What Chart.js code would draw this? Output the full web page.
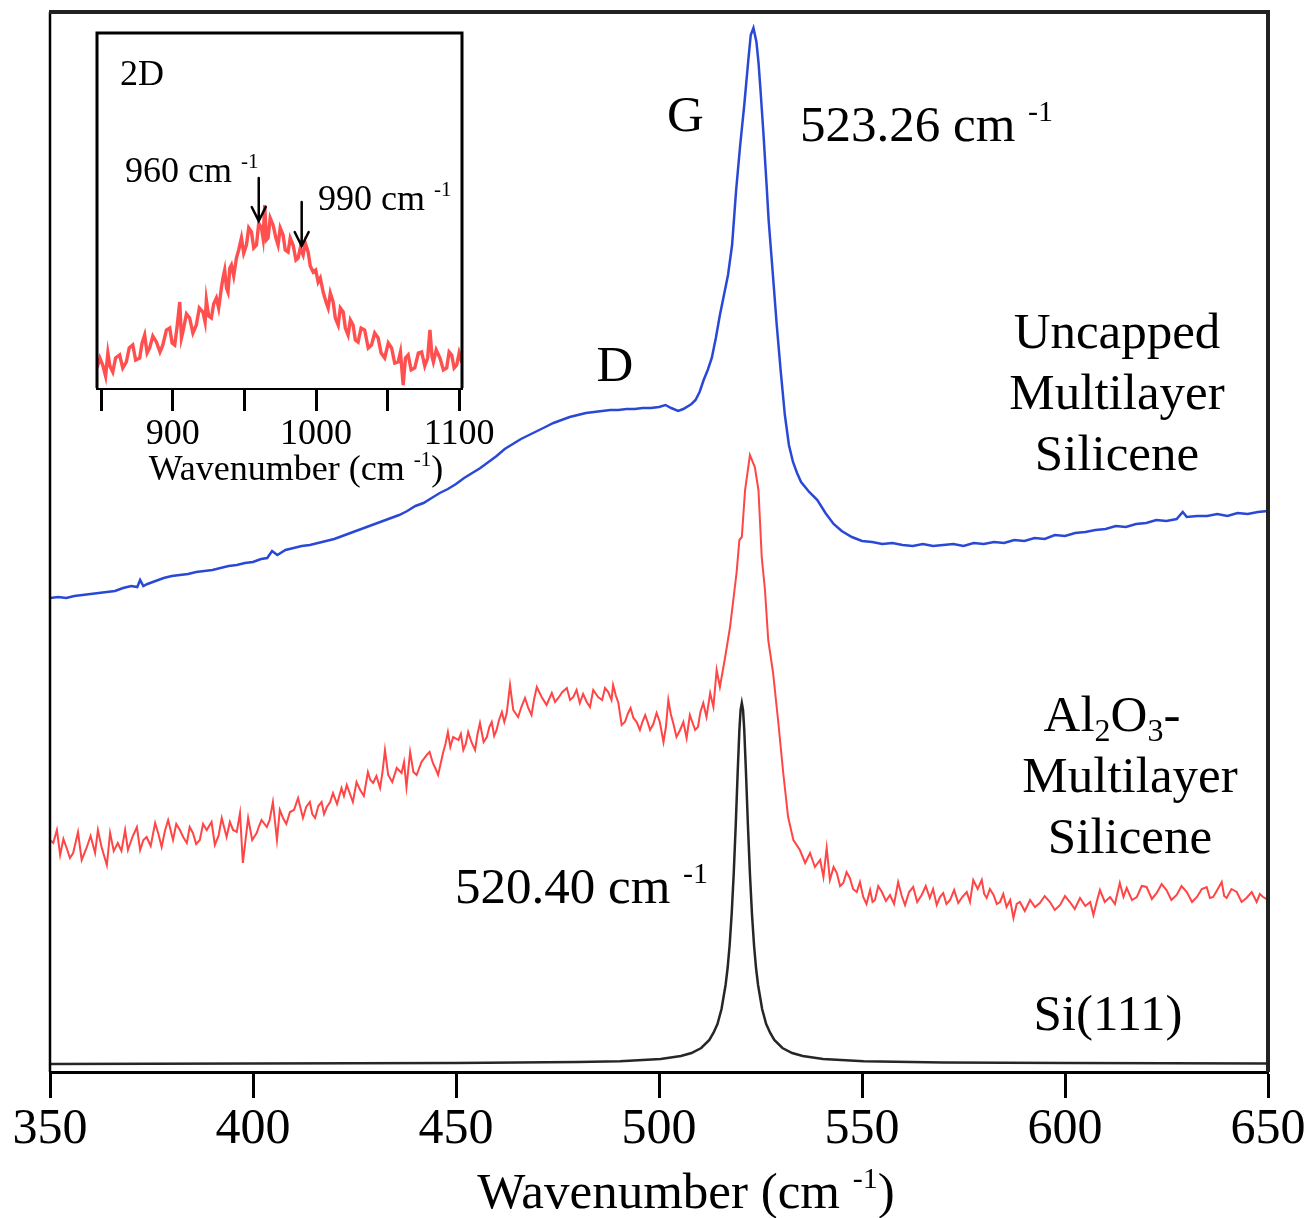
<!DOCTYPE html>
<html>
<head>
<meta charset="utf-8">
<title>Raman spectra of multilayer silicene</title>
<script src="https://cdn.jsdelivr.net/npm/chart.js@4.4.1/dist/chart.umd.min.js"></script>
<style>
  html, body { margin: 0; padding: 0; background: #fff; }
  #wrap { position: relative; width: 1311px; height: 1218px; }
  #main, #inset { position: absolute; left: 0; top: 0; }
</style>
</head>
<body>
<div id="wrap">
  <canvas id="main" width="1311" height="1218"></canvas>
  <canvas id="inset" width="520" height="500"></canvas>
</div>
<script>
// ---- Spectra (Raman shift in cm^-1, intensity in arbitrary offset units) ----

// Uncapped multilayer silicene (blue)
const unWavenumber = [350,352,354,356,358,360,362,364,366,368,370,371.5,372.2,373,374,376,378,380,382,384,386,388,390,392,394,396,398,400,402,403.5,404.7,406,408,410,412,414,416,418,420,422,424,426,428,430,432,434,436,438,440,442,444,446,448,450,452,454,456,458,460,462,464,466,468,470,472,474,476,478,480,482,484,486,488,490,492,494,496,498,500,501.6,503,504.7,506,508,509,510,511,512,513,514,515,516,517,518,519,520,521,522,522.6,523.26,524,524.5,525,525.7,526.5,527,528,529,530,531,532,533,534,535,537,539,541,543,545,547.5,550,552.5,555,557.5,560,562.5,565,567.5,570,572.5,575,577.5,580,582.5,585,587.5,590,592.5,595,597.5,600,602.5,605,607.5,610,612.5,615,617.5,620,622.5,625,627.5,629,630,632.5,635,637.5,640,642.5,645,647.5,650];
const unIntensity = [474,475,474,476,477,478,479,480,481,484,486,485,492,486,488,491,494,496,497,498,500,501,502,504,506,507,509,510,513,514,521,517,522,524,526,527,529,531,533,536,539,542,545,548,551,554,557,561,566,569,574,579,583,588,594,599,604,610,616,623,628,633,637,641,645,649,652,655,657,659,660,661,662,662,663,663,664,664,665,667,664,661,663,668,672,680,692,702,714,734,757,777,797,827,882,927,967,1012,1037,1044,1030,1010,982,940,887,852,800,747,700,657,627,610,599,590,580,572,559,548,541,535,531,530,528,529,527,526,528,526,527,528,526,529,528,530,529,532,531,534,533,537,536,539,540,542,543,546,545,548,549,552,551,553,560,555,556,556,558,556,559,558,560,561];

// Al2O3-capped multilayer silicene (red): [wavenumber, intensity]
const alSpectrum = [
  [350,232],[350.8,229],[351.7,242],[352.5,217],[353.3,233],[354.1,224],[354.9,214],[355.7,219],[356.9,240],[357.8,212],
  [359.0,224],[360.0,236],[361.1,219],[361.8,242],[362.7,225],[364.0,207],[364.8,239],[365.7,221],[366.7,229],[367.6,221],
  [368.5,242],[369.2,222],[370.3,235],[371.4,245],[372.2,222],[373.0,232],[373.8,235],[374.8,226],[375.9,249],[376.7,238],
  [377.5,225],[378.3,241],[379.1,252],[380.3,232],[381.1,248],[382.0,242],[382.8,235],[383.7,229],[384.4,245],[385.2,239],
  [386.0,228],[386.9,232],[387.7,248],[388.6,242],[389.8,250],[390.6,227],[391.5,236],[392.3,254],[393.5,235],[394.3,250],
  [395.1,242],[396.0,240],[396.8,259],[397.5,209],[398.8,254],[399.8,232],[400.9,239],[401.5,246],[402.1,252],[403.4,245],
  [404.1,252],[404.9,270],[405.9,232],[406.6,262],[407.4,254],[408.2,248],[409.1,260],[410.1,262],[411.1,274],[412.3,254],
  [413.1,265],[414.0,270],[414.6,258],[415.3,254],[416.1,266],[416.9,270],[417.5,258],[418.2,265],[419.0,270],[419.7,279],
  [420.7,268],[421.8,284],[422.4,276],[423.1,287],[423.8,279],[424.6,270],[425.5,290],[426.4,282],[427.3,276],[428.3,300],
  [428.9,292],[429.6,289],[430.4,296],[431.3,284],[431.9,300],[432.5,322],[433.3,297],[434.3,290],[435.4,304],[436.6,299],
  [437.2,310],[437.8,285],[438.7,320],[439.5,300],[440.3,297],[441.5,310],[442.8,317],[443.5,320],[444.3,309],[445.0,303],
  [445.6,297],[446.8,319],[447.4,328],[448.0,340],[448.6,325],[449.3,335],[450.6,332],[451.2,338],[451.8,322],[452.4,328],
  [453.0,340],[453.8,330],[454.7,322],[455.3,338],[455.9,349],[456.8,330],[457.6,335],[458.2,345],[458.8,350],[459.4,336],
  [460.0,342],[460.6,352],[461.3,360],[461.9,350],[462.5,359],[463.3,387],[464.1,362],[465.3,355],[466.1,365],[467.0,374],
  [467.8,364],[468.6,357],[469.2,372],[469.9,385],[471.1,375],[472.3,367],[473.6,379],[474.4,370],[475.2,374],[476.2,380],
  [477.3,384],[478.1,372],[478.9,375],[479.7,382],[480.5,369],[481.3,378],[482.2,370],[483.0,365],[483.8,382],[485.0,375],
  [486.0,372],[486.7,384],[487.5,380],[488.3,372],[488.7,387],[489.4,376],[490.0,369],[490.8,347],[491.6,350],[492.4,359],
  [493.0,364],[493.7,354],[494.5,350],[495.3,342],[495.9,350],[496.6,357],[497.2,350],[497.8,342],[498.6,348],[499.4,359],
  [500.2,350],[501.1,330],[501.7,345],[502.3,372],[502.9,358],[503.5,349],[504.3,335],[505.2,342],[506.0,350],[506.8,334],
  [507.6,357],[508.2,350],[508.9,342],[509.6,345],[510.2,360],[510.9,369],[511.7,355],[512.6,379],[513.4,365],[514.2,402],
  [515.0,385],[516.3,415],[517.5,445],[518.3,472],[519.1,499],[519.8,532],[520.4,535],[521.2,582],[522.4,617],[523.6,605],
  [524.5,582],[525.3,515],[526.1,482],[526.9,432],[528.1,399],[529.4,349],[530.6,299],[531.8,255],[533.1,232],[534.7,222],
  [536.0,209],[537.2,219],[538.4,205],[539.7,212],[540.5,195],[541.3,224],[542.1,192],[543.0,205],[543.8,199],[544.6,186],
  [545.4,189],[546.2,200],[547.0,194],[547.8,183],[548.7,180],[549.5,190],[550.3,175],[551.1,168],[552.0,182],[552.6,170],
  [553.2,172],[554.0,186],[554.9,180],[555.9,171],[556.9,177],[557.9,168],[558.9,190],[559.8,176],[560.6,167],[561.6,180],
  [562.6,185],[563.6,170],[564.7,177],[565.7,186],[566.7,174],[567.5,183],[568.4,167],[569.2,175],[570.0,179],[570.8,168],
  [571.7,172],[572.7,182],[573.7,169],[574.7,175],[575.8,180],[576.6,170],[577.4,192],[578.5,183],[579.5,192],[580.1,178],
  [580.7,174],[581.5,183],[582.4,177],[583.2,168],[584.0,170],[584.8,178],[585.6,165],[586.5,172],[587.3,154],[588.1,168],
  [588.9,170],[590.1,161],[591.4,172],[592.6,165],[593.8,169],[595.0,176],[596.3,170],[597.5,162],[598.8,167],[600.0,176],
  [601.2,170],[602.4,163],[603.7,174],[605.0,166],[606.2,170],[607.0,157],[607.8,170],[608.6,182],[609.8,170],[611.1,175],
  [612.3,168],[613.5,189],[614.4,175],[615.2,184],[616.5,172],[617.7,175],[618.9,186],[620.1,185],[621.4,173],[622.6,179],
  [623.8,188],[625.0,182],[626.2,172],[627.5,177],[628.7,186],[630.0,180],[631.3,170],[632.5,175],[633.7,183],[634.9,185],
  [635.7,174],[636.5,175],[637.5,182],[638.6,190],[639.2,176],[639.8,174],[641.0,183],[642.3,180],[643.5,170],[644.7,174],
  [646.0,180],[647.2,170],[648.0,178],[648.8,175],[650,172]
];
const alWavenumber = alSpectrum.map(p => p[0]);
const alIntensity = alSpectrum.map(p => p[1]);

// Si(111) substrate reference (black)
const siWavenumber = [350,400,450,480,490.4,500.4,505.4,508,510.4,512.4,513.4,514.4,515.4,516.4,516.9,517.4,517.9,518.4,518.9,519.4,519.8,520.1,520.4,520.7,521.0,521.4,521.9,522.4,522.9,523.4,523.9,524.4,525.4,526.4,527.4,528.4,530.4,532.8,535.4,540.4,550.4,570,600,650];
const siIntensity = [8,8.5,9,10,10.8,13,16,19,24,32,39,48,63,87,104,127,158,198,247,302,342,362,369,362,342,302,247,198,158,127,104,87,63,48,39,32,24,19,16,13,10.8,9.5,9,8.5];

// 2D band of the capped film (inset)
const insetWavenumber = [847,849,851,853,854.6,856,858,860,862.8,865,867.5,869.5,872,874,876.8,878.5,880.3,882,883.8,886,888.5,891,893,895.5,897.8,899.5,901.3,903,904.8,906,907,909.5,911.7,914,916.4,918.5,921,922.5,923.4,925,926.9,928.5,930.4,932,933.9,935,936.2,937.5,938.5,939.8,940.9,942.5,944.4,946,947.9,949.5,951.4,953,954.9,956.5,958.4,960,961.9,963,964.2,965.3,966.5,968,970,972,973.5,975,977,978.5,980.5,982,984,986,987.5,989,991,992.5,994.5,996,998,999.8,1001.5,1003,1005,1007,1008.5,1010,1012,1013.5,1015.5,1017,1019,1020.5,1022.4,1024,1025.9,1027.5,1029.4,1031.5,1034,1036.5,1038.8,1041,1043.4,1045.5,1048,1050.5,1052.8,1055,1057.4,1059,1060.9,1062.5,1064.4,1066.5,1069,1071.5,1073.8,1076,1078,1079.6,1081,1082,1084,1086.6,1089,1091.3,1093,1094.8,1096.5,1098.3,1100,1102];
const insetIntensity = [20,30,23,12,35,22,16,30,33,20,26,40,43,28,30,45,53,35,40,52,46,36,43,58,60,45,43,62,86,50,56,74,70,55,63,80,76,66,88,72,70,84,90,80,100,110,118,100,96,120,123,112,130,138,150,135,143,160,156,140,143,165,160,150,183,148,150,170,163,150,143,160,153,138,136,150,143,128,130,140,133,145,136,122,116,118,106,110,96,86,80,95,86,70,63,80,76,60,53,68,63,48,46,60,58,40,43,55,50,35,30,45,40,25,26,36,3,30,33,18,20,35,36,22,30,58,32,26,38,30,18,20,36,33,20,23,35,25];

// Axis ticks
const mainTicks = [350, 400, 450, 500, 550, 600, 650];
const insetTicks = [850, 900, 950, 1000, 1050, 1100];
const insetTickLabels = [900, 1000, 1100];

// Peak positions quoted on the plot
const gPeakUncapped = 523.26;
const siPeak = 520.40;
const insetMarks = [960, 990];

// ---- helpers ----
const SERIF = '"Liberation Serif", "Times New Roman", Times, serif';
const pts = (xs, ys) => xs.map((x, i) => ({ x: x, y: ys[i] }));

// Draw a run of text pieces (normal / superscript / subscript) on one baseline.
function rich(ctx, parts, x, y, align) {
  let w = 0;
  parts.forEach(p => { ctx.font = p[1] + 'px ' + SERIF; w += ctx.measureText(p[0]).width; });
  let cx = align === 'center' ? x - w / 2 : (align === 'right' ? x - w : x);
  ctx.textAlign = 'left';
  ctx.textBaseline = 'alphabetic';
  ctx.fillStyle = '#000';
  parts.forEach(p => {
    ctx.font = p[1] + 'px ' + SERIF;
    ctx.fillText(p[0], cx, y + (p[2] || 0));
    cx += ctx.measureText(p[0]).width;
  });
}

function arrowDown(ctx, x, y0, y1) {
  ctx.save();
  ctx.strokeStyle = '#000';
  ctx.lineWidth = 2.5;
  ctx.lineCap = 'round';
  ctx.beginPath();
  ctx.moveTo(x, y0); ctx.lineTo(x, y1);
  ctx.moveTo(x - 7, y1 - 14); ctx.lineTo(x, y1); ctx.lineTo(x + 7, y1 - 14);
  ctx.stroke();
  ctx.restore();
}

// ---- main figure ----
const mainDecor = {
  id: 'mainDecor',
  afterDraw(chart) {
    const ctx = chart.ctx, a = chart.chartArea, xs = chart.scales.x;
    ctx.save();
    // frame (bottom edge is the x axis line)
    ctx.strokeStyle = '#000';
    ctx.lineWidth = 2.5;
    ctx.beginPath(); ctx.moveTo(a.left, a.bottom); ctx.lineTo(a.left, a.top); ctx.stroke();
    ctx.strokeStyle = '#222';
    ctx.lineWidth = 4;
    ctx.beginPath(); ctx.moveTo(a.left - 1, a.top); ctx.lineTo(a.right, a.top); ctx.lineTo(a.right, a.bottom); ctx.stroke();

    // axis title
    rich(ctx, [['Wavenumber (cm ', 51], ['-1', 30, -20], [')', 51]], 686, 1208, 'center');

    // peak labels
    rich(ctx, [['G', 51]], xs.getPixelForValue(gPeakUncapped) - 68, 131, 'center');
    rich(ctx, [[gPeakUncapped.toFixed(2) + ' cm ', 51], ['-1', 30, -20]], 800, 141, 'left');
    rich(ctx, [['D', 51]], 615, 381, 'center');
    rich(ctx, [[siPeak.toFixed(2) + ' cm ', 51], ['-1', 30, -20]], 455, 903, 'left');

    // sample labels
    rich(ctx, [['Uncapped', 51]], 1117, 348, 'center');
    rich(ctx, [['Multilayer', 51]], 1117, 409, 'center');
    rich(ctx, [['Silicene', 51]], 1117, 470, 'center');

    rich(ctx, [['Al', 51], ['2', 32, 10], ['O', 51], ['3', 32, 10], ['-', 51]], 1112, 731, 'center');
    rich(ctx, [['Multilayer', 51]], 1130, 792, 'center');
    rich(ctx, [['Silicene', 51]], 1130, 853, 'center');

    rich(ctx, [['Si(111)', 51]], 1108, 1030, 'center');
    ctx.restore();
  }
};

new Chart(document.getElementById('main'), {
  type: 'line',
  data: {
    datasets: [
      { label: 'Si(111)', data: pts(siWavenumber, siIntensity), borderColor: '#262626', borderWidth: 2.5 },
      { label: 'Al2O3-Multilayer Silicene', data: pts(alWavenumber, alIntensity), borderColor: '#ff4545', borderWidth: 2 },
      { label: 'Uncapped Multilayer Silicene', data: pts(unWavenumber, unIntensity), borderColor: '#2a48d6', borderWidth: 2.5 }
    ]
  },
  options: {
    responsive: false,
    devicePixelRatio: 1,
    animation: false,
    events: [],
    layout: { padding: { left: 50, right: 43, top: 12, bottom: 0 } },
    elements: { point: { radius: 0 }, line: { tension: 0, fill: false } },
    plugins: { legend: { display: false }, tooltip: { enabled: false } },
    scales: {
      x: {
        type: 'linear', position: 'bottom', min: 350, max: 650,
        afterBuildTicks: s => { s.ticks = mainTicks.map(v => ({ value: v })); },
        ticks: { font: { family: SERIF, size: 50 }, color: '#000', padding: 2, maxRotation: 0, autoSkip: false },
        grid: { drawOnChartArea: false, drawTicks: true, tickLength: 26, tickWidth: 3, tickColor: '#000' },
        border: { display: true, color: '#000', width: 3 },
        afterFit: s => { s.height = 146; }
      },
      y: { type: 'linear', min: 0, max: 1060, display: false }
    }
  },
  plugins: [mainDecor]
});

// ---- inset: 2D band ----
const insetDecor = {
  id: 'insetDecor',
  beforeDatasetsDraw(chart) {
    const ctx = chart.ctx, a = chart.chartArea;
    ctx.save();
    ctx.fillStyle = '#fff';
    ctx.fillRect(a.left, a.top, a.right - a.left, a.bottom - a.top);
    ctx.restore();
  },
  afterDraw(chart) {
    const ctx = chart.ctx, a = chart.chartArea, xs = chart.scales.x;
    ctx.save();
    ctx.strokeStyle = '#000';
    ctx.lineWidth = 3;
    ctx.beginPath();
    ctx.moveTo(a.left, a.bottom); ctx.lineTo(a.left, a.top); ctx.lineTo(a.right, a.top); ctx.lineTo(a.right, a.bottom);
    ctx.stroke();

    rich(ctx, [['Wavenumber (cm ', 36], ['-1', 21, -14], [')', 36]], 296, 480, 'center');
    rich(ctx, [['2D', 36]], 120, 85, 'left');
    rich(ctx, [[insetMarks[0] + ' cm ', 36], ['-1', 21, -14]], 125, 182, 'left');
    rich(ctx, [[insetMarks[1] + ' cm ', 36], ['-1', 21, -14]], 318, 210, 'left');

    arrowDown(ctx, xs.getPixelForValue(insetMarks[0]), 178, 221);
    arrowDown(ctx, xs.getPixelForValue(insetMarks[1]), 202, 246);
    ctx.restore();
  }
};

new Chart(document.getElementById('inset'), {
  type: 'line',
  data: {
    datasets: [
      { label: '2D', data: pts(insetWavenumber, insetIntensity), borderColor: 'rgba(255,35,35,0.8)', borderWidth: 3.4 }
    ]
  },
  options: {
    responsive: false,
    devicePixelRatio: 1,
    animation: false,
    events: [],
    layout: { padding: { left: 97, right: 58, top: 33, bottom: 0 } },
    elements: { point: { radius: 0 }, line: { tension: 0, fill: false } },
    plugins: { legend: { display: false }, tooltip: { enabled: false } },
    scales: {
      x: {
        type: 'linear', position: 'bottom', min: 847, max: 1102,
        afterBuildTicks: s => { s.ticks = insetTicks.map(v => ({ value: v })); },
        ticks: {
          font: { family: SERIF, size: 36 }, color: '#000', padding: 2, maxRotation: 0, autoSkip: false,
          callback: v => insetTickLabels.includes(v) ? String(v) : ''
        },
        grid: { drawOnChartArea: false, drawTicks: true, tickLength: 23, tickWidth: 3, tickColor: '#000' },
        border: { display: true, color: '#000', width: 3 },
        afterFit: s => { s.height = 112; }
      },
      y: { type: 'linear', min: 0, max: 355, display: false }
    }
  },
  plugins: [insetDecor]
});
</script>
</body>
</html>
